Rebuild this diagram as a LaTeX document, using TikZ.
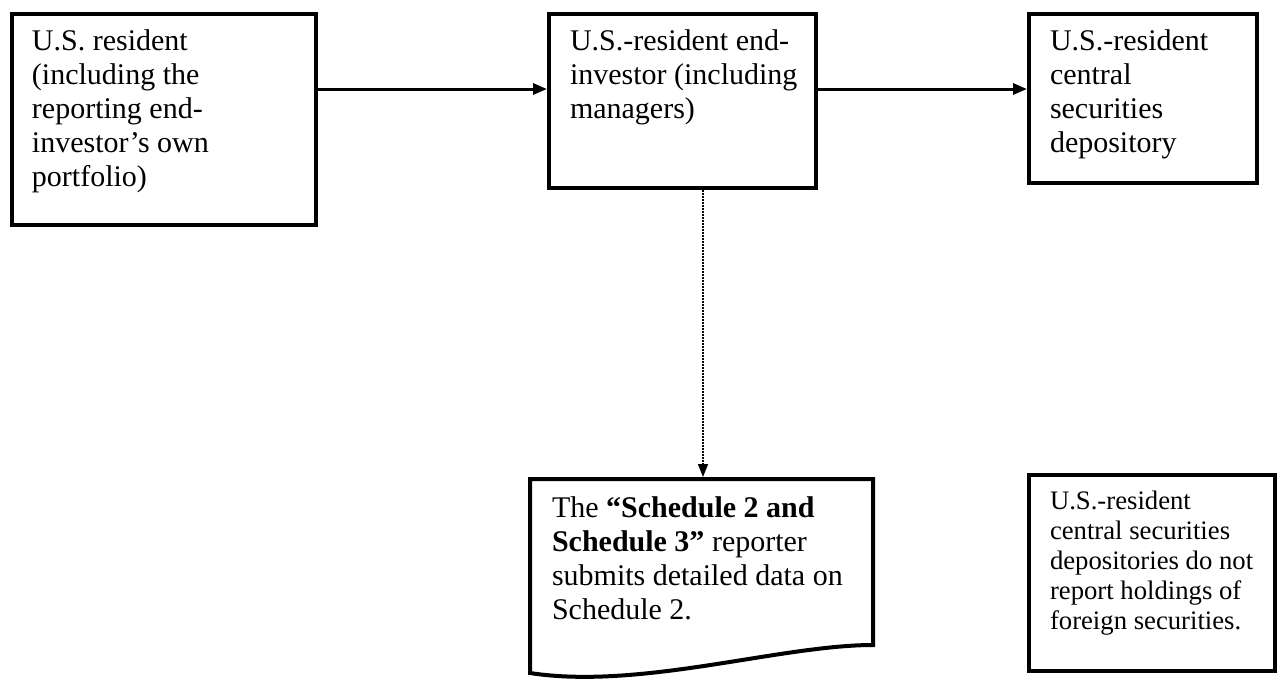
\documentclass[tikz,border=0pt]{standalone}
\usepackage{fontspec}
\setmainfont{Liberation Serif}
\usetikzlibrary{arrows.meta}
\newcommand\bxt[5]{\parbox[c][#2][t]{#1}{\raggedright\leftskip=#3\relax\rule{0pt}{#4}#5}}
\tikzset{
  boxnode/.style={draw, line width=4pt, inner sep=0pt, outer sep=0pt, anchor=north west, font=\fontsize{30}{34}\selectfont},
  flowarrow/.style={line width=3pt, -{Triangle[length=14pt,width=11pt]}},
  dotarrow/.style={line width=1.5pt, dash pattern=on 1.5pt off 1.5pt, -{Triangle[length=13pt,width=10pt]}}
}
\begin{document}
\begin{tikzpicture}[x=1pt,y=-1pt]
\useasboundingbox (0,0) rectangle (1278,681);
\node[boxnode] (A) at (12,14) {\bxt{304pt}{211pt}{20pt}{36pt}{U.S. resident\\(including the\\reporting end-\\investor’s own\\portfolio)}};
\node[boxnode] (B) at (549,14) {\bxt{267pt}{174pt}{21pt}{36pt}{U.S.-resident end-\\investor (including\\managers)}};
\node[boxnode] (C) at (1029,14) {\bxt{228pt}{169pt}{21pt}{36pt}{U.S.-resident\\central\\securities\\depository}};
\node[boxnode, draw=none] (D) at (530,479) {\bxt{343pt}{194pt}{22pt}{38pt}{The \textbf{“Schedule 2 and}\\\textbf{Schedule 3”} reporter\\submits detailed data on\\Schedule 2.}};
\draw[line width=4pt, line join=miter] (D.south west) -- (D.north west) -- (D.north east) -- ([yshift=28pt]D.south east) .. controls ([xshift=-93pt,yshift=28pt]D.south east) and ([xshift=110pt,yshift=-17pt]D.south west) .. (D.south west) -- cycle;
\node[boxnode, font=\fontsize{26.7}{30}\selectfont] (E) at (1029,475) {\bxt{246pt}{196pt}{21pt}{34pt}{U.S.-resident\\central securities\\depositories do not\\report holdings of\\foreign securities.}};
\coordinate (ylev) at (0,89);
\coordinate (xdot) at (703,0);
\draw[flowarrow, shorten >=2pt] (A.east |- ylev) -- (B.west |- ylev);
\draw[flowarrow, shorten >=2pt] (B.east |- ylev) -- (C.west |- ylev);
\draw[dotarrow, shorten <=2pt, shorten >=2pt] (B.south -| xdot) -- (D.north -| xdot);
\end{tikzpicture}
\end{document}
